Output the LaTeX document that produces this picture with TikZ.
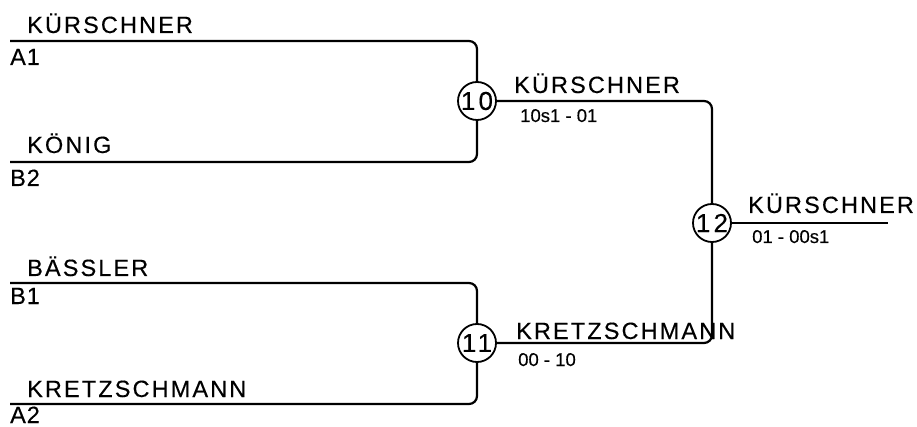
\documentclass[tikz,border=0pt]{standalone}
\usepackage{fontspec}
\setmainfont{Liberation Sans}[FakeBold=0.3]
\begin{document}
\begin{tikzpicture}[x=1pt,y=-1pt,
  wire/.style={line width=2.2pt,rounded corners=8pt},
  matchc/.style={circle,draw,line width=1.8pt,minimum size=38pt,inner sep=0pt,
    font=\fontsize{26}{26}\selectfont\addfontfeature{LetterSpace=12}},
  pname/.style={anchor=base west,inner sep=0pt,
    font=\fontsize{23.5}{23.5}\selectfont\addfontfeature{LetterSpace=9}},
  pseed/.style={anchor=base west,inner sep=0pt,
    font=\fontsize{23.5}{23.5}\selectfont\addfontfeature{LetterSpace=4}},
  pscore/.style={anchor=base west,inner sep=0pt,
    font=\fontsize{18.5}{18.5}\selectfont}]
\useasboundingbox (0,0) rectangle (917,427);
% match circles
\node[matchc] (m10) at (477,101) {10};
\node[matchc] (m11) at (477,343) {11};
\node[matchc] (m12) at (712,223) {12};
% line starts
\coordinate (a1) at (10,41);
\coordinate (b2) at (10,162);
\coordinate (b1) at (10,283);
\coordinate (a2) at (10,404);
\coordinate (fin) at (888,223);
% connectors
\draw[wire] (a1) -| (m10.north);
\draw[wire] (b2) -| (m10.south);
\draw[wire] (b1) -| (m11.north);
\draw[wire] (a2) -| (m11.south);
\draw[wire] (m10.east) -| (m12.north);
\draw[wire] (m11.east) -| (m12.south);
\draw[wire] (m12.east) -- (fin);
% names and seeds
\node[pname] (n1) at (27,33) {KÜRSCHNER};
\node[pseed] (s1) at (10,65) {A1};
\node[pname] (n2) at (27,153) {KÖNIG};
\node[pseed] (s2) at (10,186) {B2};
\node[pname] (n3) at (27,276) {BÄSSLER};
\node[pseed] (s3) at (10,304) {B1};
\node[pname] (n4) at (27,397) {KRETZSCHMANN};
\node[pseed] (s4) at (10,423) {A2};
% winners and scores
\node[pname] (w10) at (514,93) {KÜRSCHNER};
\node[pscore] (r10) at (520,122) {10s1 - 01};
\node[pname] (w11) at (516,339) {KRETZSCHMANN};
\node[pscore] (r11) at (518,366) {00 - 10};
\node[pname] (w12) at (748,213) {KÜRSCHNER};
\node[pscore] (r12) at (752,243) {01 - 00s1};
\end{tikzpicture}
\end{document}
